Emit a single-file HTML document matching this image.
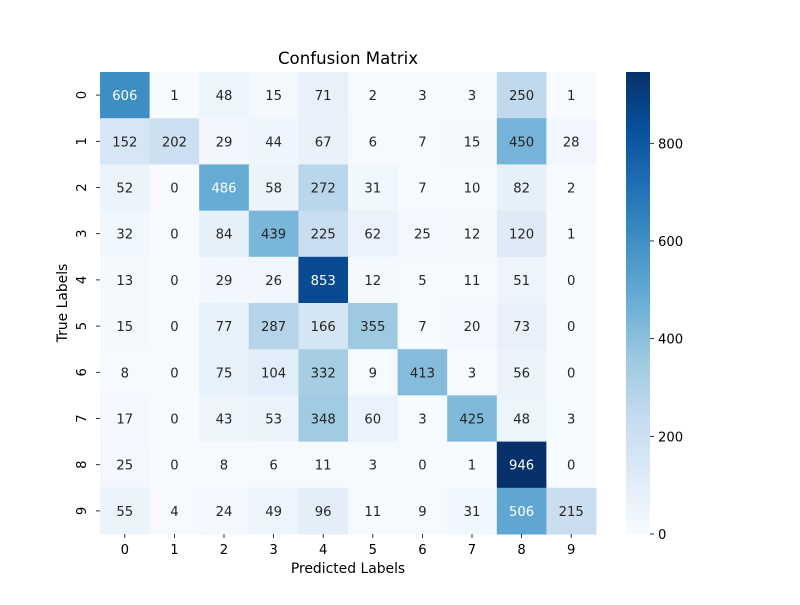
<!DOCTYPE html>
<html><head><meta charset="utf-8"><style>
body{margin:0;background:#fff;}
svg text{font-family:"DejaVu Sans","Liberation Sans",sans-serif;}
</style></head><body>
<svg id="s" width="800" height="600" xmlns="http://www.w3.org/2000/svg"></svg>
<script>
const M=[[606,1,48,15,71,2,3,3,250,1],[152,202,29,44,67,6,7,15,450,28],[52,0,486,58,272,31,7,10,82,2],[32,0,84,439,225,62,25,12,120,1],[13,0,29,26,853,12,5,11,51,0],[15,0,77,287,166,355,7,20,73,0],[8,0,75,104,332,9,413,3,56,0],[17,0,43,53,348,60,3,425,48,3],[25,0,8,6,11,3,0,1,946,0],[55,4,24,49,96,11,9,31,506,215]];
const S=[[247,251,255],[222,235,247],[198,219,239],[158,202,225],[107,174,214],[66,146,198],[33,113,181],[8,81,156],[8,48,107]];
function cm(t){t=Math.max(0,Math.min(1,t));const p=t*8,i=Math.min(7,Math.floor(p)),f=p-i;return S[i].map((a,k)=>Math.round(a+(S[i+1][k]-a)*f));}
function lin(c){c/=255;return c<=0.03928?c/12.92:Math.pow((c+0.055)/1.055,2.4);}
const vmax=946,x0=100,y0=72,W=496,H=462,cw=W/10,ch=H/10;
let h='';
h+='<text x="348" y="64" font-size="16.6" text-anchor="middle" fill="#000">Confusion Matrix</text>';
for(let r=0;r<10;r++)for(let c=0;c<10;c++){const v=M[r][c],col=cm(v/vmax);
const x=x0+c*cw,y=y0+r*ch;
h+=`<rect x="${x}" y="${y}" width="${cw+0.5}" height="${ch+0.5}" fill="rgb(${col})"/>`;
const L=0.2126*lin(col[0])+0.7152*lin(col[1])+0.0722*lin(col[2]);
h+=`<text x="${x+cw/2}" y="${y+ch/2+5}" font-size="13.2" text-anchor="middle" fill="${L>0.408?'#262626':'#fff'}">${v}</text>`;}
for(let i=0;i<10;i++){const x=x0+(i+0.5)*cw,y=y0+(i+0.5)*ch;
h+=`<line x1="${x}" y1="534" x2="${x}" y2="538" stroke="#000" stroke-width="0.8"/><text x="${x}" y="554" font-size="13.2" text-anchor="middle">${i}</text>`;
h+=`<line x1="96" y1="${y}" x2="100" y2="${y}" stroke="#000" stroke-width="0.8"/><text transform="translate(86,${y}) rotate(-90)" font-size="13.2" text-anchor="middle">${i}</text>`;}
h+='<text x="348" y="573" font-size="13.9" text-anchor="middle">Predicted Labels</text>';
h+='<text transform="translate(67,303) rotate(-90)" font-size="13.9" text-anchor="middle">True Labels</text>';
let g='<defs><linearGradient id="cb" x1="0" y1="1" x2="0" y2="0">';
for(let i=0;i<=8;i++)g+=`<stop offset="${i/8}" stop-color="rgb(${S[i]})"/>`;
g+='</linearGradient></defs>';
h=g+h+'<rect x="626" y="72" width="24" height="462" fill="url(#cb)"/>';
for(const t of [0,200,400,600,800]){const y=534-t/vmax*462;
h+=`<line x1="650" y1="${y}" x2="654" y2="${y}" stroke="#000" stroke-width="0.8"/><text x="658" y="${y+5}" font-size="13.2">${t}</text>`;}
document.getElementById('s').innerHTML=h;
</script>
</body></html>
